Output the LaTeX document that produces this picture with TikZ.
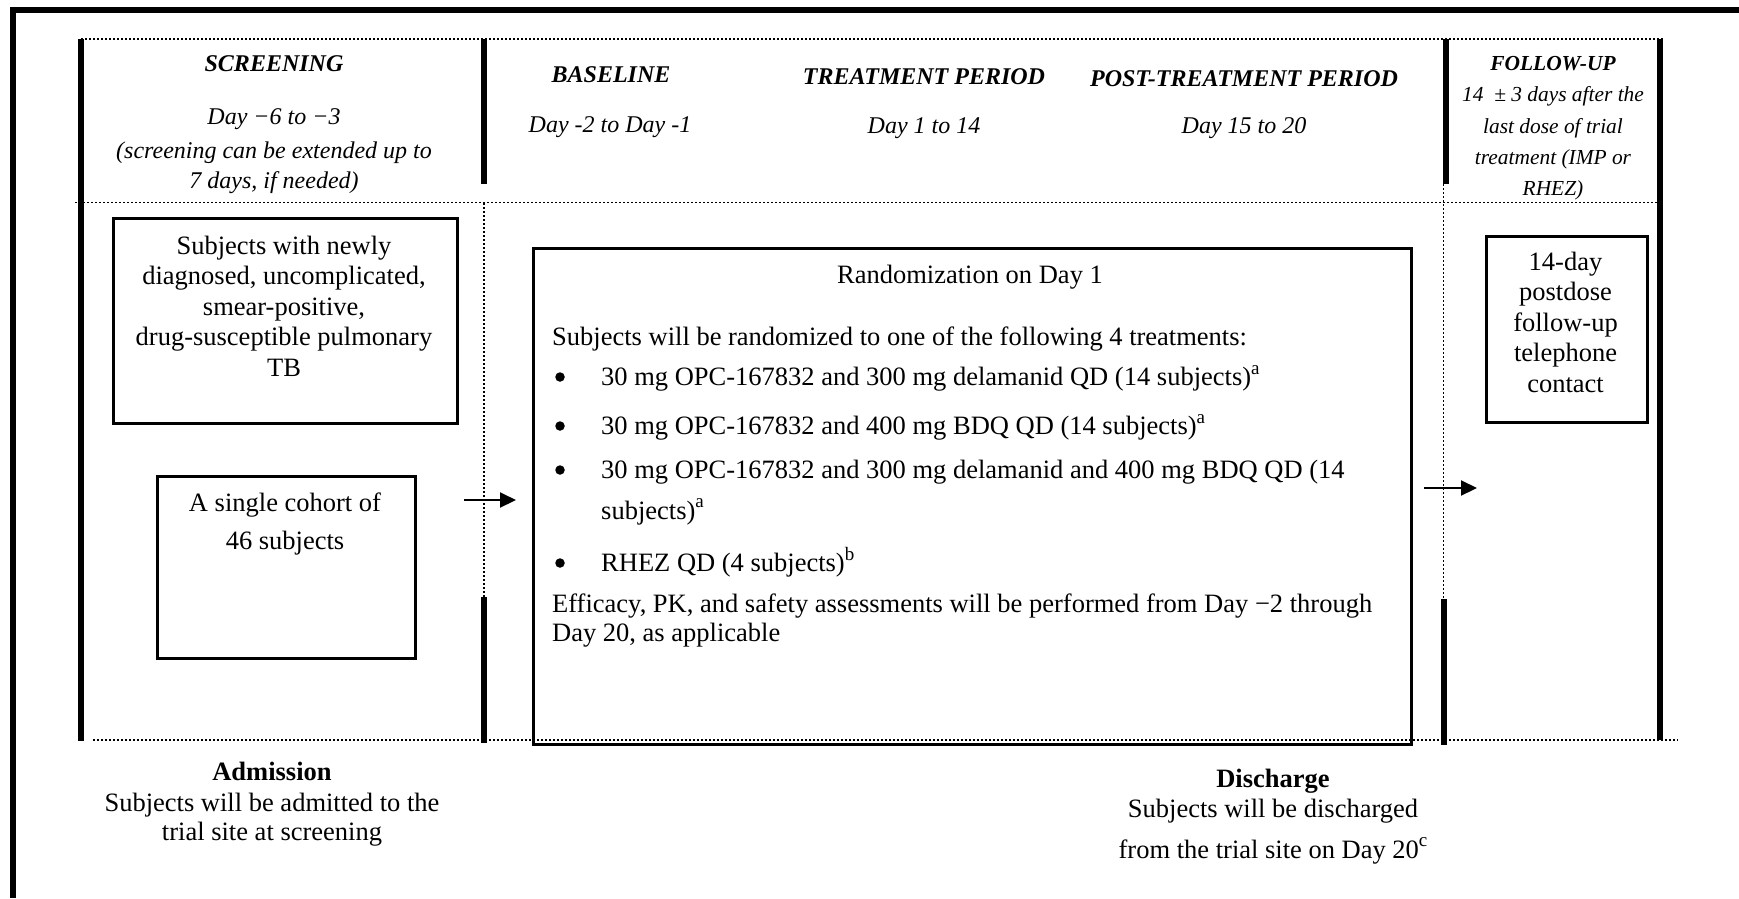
\documentclass[tikz,border=0pt]{standalone}
\usepackage{fontspec}
\setmainfont{Liberation Serif}
\usetikzlibrary{arrows.meta}
\newcommand{\fBody}{\fontsize{26.5}{30.5}\selectfont}
\newcommand{\fHead}{\fontsize{24}{30}\selectfont}
\newcommand{\fFU}{\fontsize{21.4}{31}\selectfont}
\newcommand{\sups}[1]{\raisebox{0.42em}{\fontsize{19}{19}\selectfont #1}}
\begin{document}
\begin{tikzpicture}[x=1pt,y=-1pt,
  thk/.style={line width=6pt},
  dotl/.style={line width=1.5pt,dash pattern=on 1.5pt off 2.5pt},
  boxs/.style={draw,line width=2.5pt,inner sep=0pt,anchor=north west},
  txt/.style={inner sep=0pt,anchor=base,font=\fBody},
  txtl/.style={inner sep=0pt,anchor=base west,font=\fBody},
  hd/.style={inner sep=0pt,anchor=base,font=\fHead\bfseries\itshape},
  hdt/.style={inner sep=0pt,anchor=base,font=\fHead\itshape},
  fu/.style={inner sep=0pt,anchor=base,font=\fFU\itshape},
  bul/.style={circle,fill,inner sep=0pt,minimum size=9.5pt},
  arr/.style={line width=2pt,-{Triangle[length=16pt,width=15pt]}}]
\useasboundingbox (0,0) rectangle (1739,898);
% outer frame
\draw[line width=6pt,line join=miter] (13,898) -- (13,10) -- (1739,10);
% dotted grid lines
\draw[dotl] (81,39) -- (1663,39);
\draw[dotl] (75,202.5) -- (1657,202.5);
\draw[dotl] (93,740) -- (1678,740);
\draw[dotl] (484,203) -- (484,597);
\draw[dotl] (1443.5,120) -- (1443.5,599);
% thick verticals
\draw[thk] (81,39) -- (81,741);
\draw[thk] (1660,39) -- (1660,740);
\draw[thk] (484,39) -- (484,184);
\draw[thk] (484,597) -- (484,743);
\draw[thk] (1446,39) -- (1446,184);
\draw[thk] (1444,599) -- (1444,745);
% header texts
\node[hd] (hScr) at (274,71) {SCREENING};
\node[hdt] (dScr) at (274,124) {Day −6 to −3};
\node[hdt] (eScrA) at (274,158) {(screening can be extended up to};
\node[hdt] (eScrB) at (274,188) {7 days, if needed)};
\node[hd] (hBas) at (611,82) {BASELINE};
\node[hdt] (dBas) at (610,132) {Day -2 to Day -1};
\node[hd] (hTrt) at (924,84) {TREATMENT PERIOD};
\node[hdt] (dTrt) at (924,133) {Day 1 to 14};
\node[hd] (hPost) at (1244,86) {POST-TREATMENT PERIOD};
\node[hdt] (dPost) at (1244,133) {Day 15 to 20};
\node[fu,font=\fFU\bfseries\itshape] (hFU) at (1553,70) {FOLLOW-UP};
\node[fu] (fuA) at (1553,101) {14 \ ± 3 days after the};
\node[fu] (fuB) at (1553,133) {last dose of trial};
\node[fu] (fuC) at (1553,164) {treatment (IMP or};
\node[fu] (fuD) at (1553,195) {RHEZ)};
% box 1
\node[boxs,minimum width=344pt,minimum height=205pt] (box1) at (112,217) {};
\node[txt] (b1a) at (284,254) {Subjects with newly};
\node[txt] (b1b) at (284,284.5) {diagnosed, uncomplicated,};
\node[txt] (b1c) at (284,315) {smear-positive,};
\node[txt] (b1d) at (284,345.5) {drug-susceptible pulmonary};
\node[txt] (b1e) at (284,376) {TB};
% box 2
\node[boxs,minimum width=258pt,minimum height=182pt] (box2) at (156,475) {};
\node[txt] (b2a) at (285,511) {A single cohort of};
\node[txt] (b2b) at (285,549) {46 subjects};
% randomization box
\node[boxs,minimum width=878pt,minimum height=496pt] (rand) at (532,247) {};
\node[txt] (rT) at (970,283) {Randomization on Day 1};
\node[txtl] (rS) at (552,345) {Subjects will be randomized to one of the following 4 treatments:};
\node[bul] (bu1) at (560,377) {};
\node[txtl] (r1) at (601,385.5) {30 mg OPC-167832 and 300 mg delamanid QD (14 subjects)\sups{a}};
\node[bul] (bu2) at (560,426) {};
\node[txtl] (r2) at (601,434.5) {30 mg OPC-167832 and 400 mg BDQ QD (14 subjects)\sups{a}};
\node[bul] (bu3) at (560,470) {};
\node[txtl] (r3) at (601,478.5) {30 mg OPC-167832 and 300 mg delamanid and 400 mg BDQ QD (14};
\node[txtl] (r3b) at (601,519) {subjects)\sups{a}};
\node[bul] (bu4) at (560,563) {};
\node[txtl] (r4) at (601,571.5) {RHEZ QD (4 subjects)\sups{b}};
\node[txtl] (rE1) at (552,612) {Efficacy, PK, and safety assessments will be performed from Day −2 through};
\node[txtl] (rE2) at (552,641) {Day 20, as applicable};
% follow-up box
\node[boxs,minimum width=161pt,minimum height=186pt] (fubox) at (1485,235) {};
\node[txt] (f1) at (1565.5,270) {14-day};
\node[txt] (f2) at (1565.5,300.5) {postdose};
\node[txt] (f3) at (1565.5,331) {follow-up};
\node[txt] (f4) at (1565.5,361.5) {telephone};
\node[txt] (f5) at (1565.5,392) {contact};
% arrows
\coordinate (a1s) at (464,500);
\coordinate (a1e) at (516,500);
\draw[arr] (a1s) -- (a1e);
\coordinate (a2s) at (1424,488);
\coordinate (a2e) at (1477,488);
\draw[arr] (a2s) -- (a2e);
% bottom texts
\node[txt,font=\fBody\bfseries] (adm) at (272,780) {Admission};
\node[txt] (admA) at (272,811) {Subjects will be admitted to the};
\node[txt] (admB) at (272,840) {trial site at screening};
\node[txt,font=\fBody\bfseries] (dis) at (1273,787) {Discharge};
\node[txt] (disA) at (1273,817) {Subjects will be discharged};
\node[txt] (disB) at (1273,858) {from the trial site on Day 20\sups{c}};
\end{tikzpicture}
\end{document}
